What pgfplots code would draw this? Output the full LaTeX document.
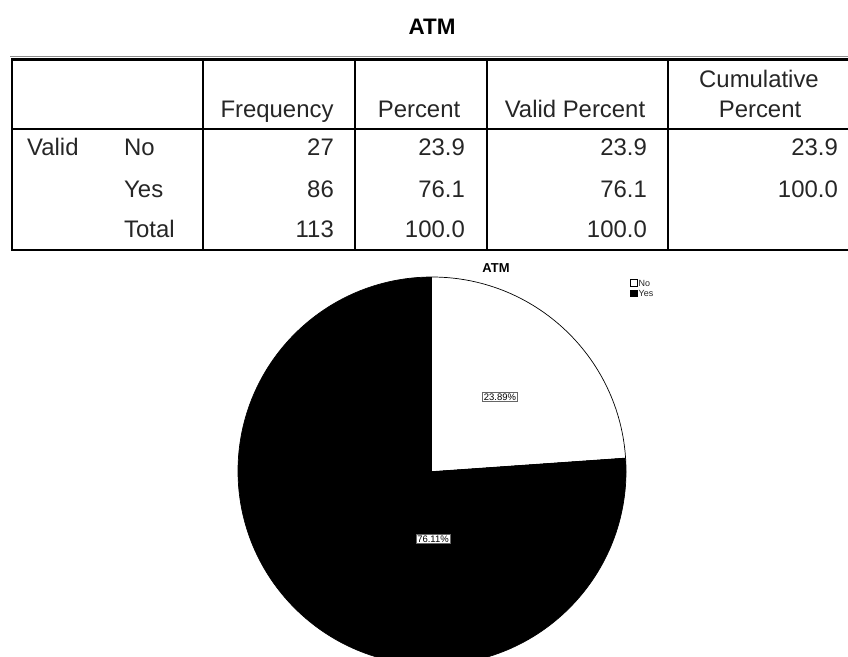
\documentclass[border=0pt]{standalone}
\usepackage{pgfplots}
\pgfplotsset{compat=1.18}
\usepackage{fontspec}
\setmainfont{Liberation Sans}

% pie shares, in percent
\def\pctNo{23.89}
\def\pctYes{76.11}

\begin{document}
\begin{tikzpicture}[x=1bp,y=-1bp]
  \useasboundingbox[fill=white] (0,0) rectangle (848,657);

  % title of the frequency table
  \node[font=\fontsize{22.5}{26}\selectfont\bfseries,anchor=base]
    at (432,35) {ATM};

  % table rules
  \draw[black!45,line width=0.8bp] (10,56.5) -- (850,56.5);
  \draw[line width=2.6bp] (11,59.5) -- (850,59.5);
  \draw[line width=2.6bp] (11,129) -- (850,129);
  \draw[line width=2.6bp] (11,250) -- (850,250);
  \draw[line width=2.6bp] (12,58.5) -- (12,251);
  \draw[line width=2.4bp] (203,58.5) -- (203,251);
  \draw[line width=1.6bp] (355,58.5) -- (355,251);
  \draw[line width=1.6bp] (487,58.5) -- (487,251);
  \draw[line width=1.6bp] (668,58.5) -- (668,251);

  \begin{scope}[every node/.style={font=\fontsize{24}{28}\selectfont,inner sep=0pt,text=black!85}]
    % header
    \node[anchor=base] at (277,118) {Frequency};
    \node[anchor=base] at (419,118) {Percent};
    \node[anchor=base] at (575,118) {Valid Percent};
    \node[anchor=base] at (759,88) {Cumulative};
    \node[anchor=base] at (760,118) {Percent};
    % row labels
    \node[anchor=base west] at (27,156) {Valid};
    \node[anchor=base west] at (124,156) {No};
    \node[anchor=base west] at (124,197) {Yes};
    \node[anchor=base west] at (124,237) {Total};
    % Frequency
    \node[anchor=base east] at (334,156) {27};
    \node[anchor=base east] at (334,197) {86};
    \node[anchor=base east] at (334,237) {113};
    % Percent
    \node[anchor=base east] at (465,156) {23.9};
    \node[anchor=base east] at (465,197) {76.1};
    \node[anchor=base east] at (465,237) {100.0};
    % Valid Percent
    \node[anchor=base east] at (647,156) {23.9};
    \node[anchor=base east] at (647,197) {76.1};
    \node[anchor=base east] at (647,237) {100.0};
    % Cumulative Percent
    \node[anchor=base east] at (838,156) {23.9};
    \node[anchor=base east] at (838,197) {100.0};
  \end{scope}

  % pie chart
  \begin{axis}[
    x=1bp,y=1bp,
    xmin=-200,xmax=200,
    ymin=-200,ymax=200,
    hide axis,
    clip=false,
    at={(432bp,-471bp)},
    anchor=center]
    \pgfmathsetmacro\aNo{90-3.6*\pctNo}
    \pgfmathsetmacro\xNo{194*cos(\aNo)}
    \pgfmathsetmacro\yNo{194*sin(\aNo)}
    % Yes slice: the rest of the turn
    \fill[black] (axis cs:0,0) -- (axis cs:\xNo,\yNo)
      arc[start angle=\aNo, end angle=-270, radius=194bp] -- cycle;
    % No slice: clockwise from the top
    \fill[white] (axis cs:0,0) -- (axis cs:0,194)
      arc[start angle=90, end angle=\aNo, radius=194bp] -- cycle;
    \draw[black,line width=0.7bp] (axis cs:0,0) circle[radius=194bp];

    \node[draw=black!60,fill=white,line width=0.6bp,inner sep=1.3bp,
      font=\fontsize{9.5}{11}\selectfont] at (axis cs:68,74) {23.89\%};
    \node[draw=black!60,fill=white,line width=0.6bp,inner sep=1.3bp,
      font=\fontsize{9.5}{11}\selectfont] at (axis cs:1,-68) {76.11\%};
  \end{axis}

  % pie title and legend
  \node[font=\fontsize{13}{15}\selectfont\bfseries,anchor=base]
    at (496,272) {ATM};
  \draw[line width=0.6bp,fill=white] (630,279.5) rectangle (637,286);
  \draw[line width=0.6bp,fill=black] (630,290) rectangle (637,296.5);
  \node[font=\fontsize{9}{10}\selectfont,anchor=base west,inner sep=0pt,text=black!85]
    at (638.5,286.5) {No};
  \node[font=\fontsize{9}{10}\selectfont,anchor=base west,inner sep=0pt,text=black!85]
    at (638.5,296.5) {Yes};
\end{tikzpicture}
\end{document}
